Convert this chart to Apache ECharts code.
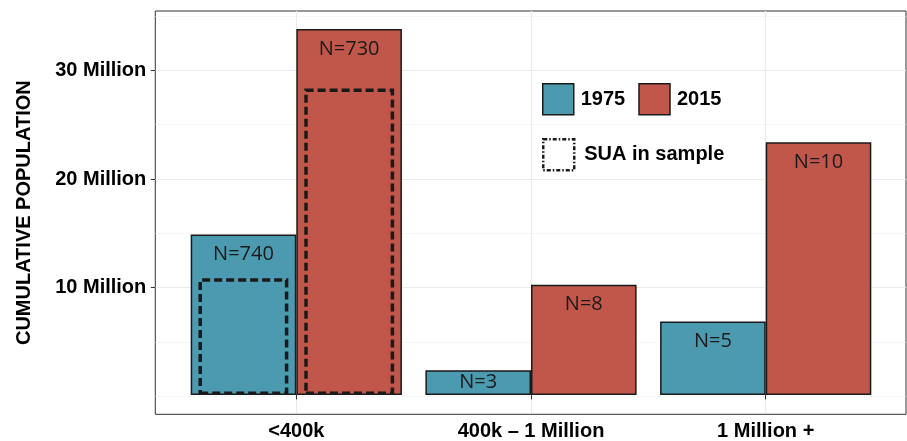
<!DOCTYPE html>
<html>
<head>
<meta charset="utf-8">
<script src="https://cdn.jsdelivr.net/npm/echarts@6/dist/echarts.min.js"></script>
<style>
html,body{margin:0;padding:0;background:#fff;}
#chart{width:907px;height:441px;}
</style>
</head>
<body>
<div id="chart"></div>
<script>
// ---- data ----
var categories = ['<400k', '400k \u2013 1 Million', '1 Million +'];
var pop1975 = [14.83, 2.28, 6.79];          // millions
var pop2015 = [33.81, 10.19, 23.35];        // millions
var sua1975 = [10.78, null, null];          // SUA in sample (millions)
var sua2015 = [28.3, null, null];
var counts1975 = ['N=740', 'N=3', 'N=5'];
var counts2015 = ['N=730', 'N=8', 'N=10'];
var majorTicks = [10, 20, 30];
var minorTicks = [0, 5, 15, 25, 35];
var yMin = -1.67, yMax = 35.47;

var C1975 = '#4C9AB0', C2015 = '#C1574A', EDGE = '#1a1a1a';
var boldFont = 'Liberation Sans';

function barData(vals, labels) {
  return vals.map(function (v, i) {
    return {
      value: v,
      label: { formatter: labels[i], distance: v < 4 ? 2 : 10 }
    };
  });
}

var chart = echarts.init(document.getElementById('chart'), null, { renderer: 'canvas' });
chart.setOption({
  animation: false,
  backgroundColor: '#fff',
  grid: [
    { left: 155.3, right: 1, top: 11, bottom: 26.7, show: true, borderColor: '#333', borderWidth: 1, backgroundColor: '#fff' },
    { left: 178.95, right: 23.95, top: 11, bottom: 26.7 }
  ],
  legend: [
    {
      data: ['1975', '2015'], left: 542, top: 83, padding: 0, icon: 'rect',
      itemWidth: 31, itemHeight: 31, itemGap: 13,
      textStyle: { fontSize: 20, fontWeight: 'bold', color: '#000', fontFamily: boldFont, padding: [0, 0, 0, 2] },
      itemStyle: { borderWidth: 1.5, borderColor: EDGE }
    },
    {
      data: ['SUA in sample'], left: 542, top: 138, padding: 0, icon: 'rect',
      itemWidth: 31, itemHeight: 31,
      textStyle: { fontSize: 20, fontWeight: 'bold', color: '#000', fontFamily: boldFont, padding: [0, 0, 0, 5] },
      itemStyle: { color: 'rgba(0,0,0,0)', borderWidth: 2.5, borderColor: EDGE, borderType: [4, 2, 1.5, 2] }
    }
  ],
  xAxis: [
    { type: 'category', gridIndex: 0, data: categories, show: false },
    {
      type: 'category', gridIndex: 1, data: categories,
      axisLine: { show: false },
      axisTick: { show: true, alignWithLabel: true, length: 4.5, lineStyle: { color: '#333', width: 1 } },
      axisLabel: { margin: 8, fontSize: 20, fontWeight: 'bold', color: '#000', fontFamily: boldFont },
      splitLine: { show: true, alignWithLabel: true, lineStyle: { color: '#ebebeb', width: 1.2 } }
    },
    { type: 'category', gridIndex: 1, data: categories, show: false }
  ],
  yAxis: [
    {
      type: 'value', gridIndex: 0, min: yMin, max: yMax,
      axisLine: { show: false },
      axisTick: { show: true, length: 4.5, lineStyle: { color: '#333' }, customValues: majorTicks },
      axisLabel: {
        customValues: majorTicks, margin: 9,
        formatter: function (v) { return v + ' Million'; },
        fontSize: 20, fontWeight: 'bold', color: '#000', fontFamily: boldFont
      },
      splitLine: { show: true, lineStyle: { color: '#ebebeb', width: 1.2 } },
      name: 'CUMULATIVE POPULATION', nameLocation: 'middle', nameGap: 121,
      nameTextStyle: { fontSize: 20, fontWeight: 'bold', color: '#000', fontFamily: boldFont }
    },
    {
      type: 'value', gridIndex: 0, min: yMin, max: yMax, position: 'left',
      axisLine: { show: false },
      axisTick: { show: false, customValues: minorTicks },
      axisLabel: { show: false },
      splitLine: { show: true, lineStyle: { color: '#f2f2f2', width: 0.7 } }
    },
    { type: 'value', gridIndex: 1, min: yMin, max: yMax, show: false, splitLine: { show: false } }
  ],
  series: [
    {
      name: '1975', type: 'bar', xAxisIndex: 1, yAxisIndex: 2,
      data: barData(pop1975, counts1975),
      barGap: '0%', barCategoryGap: '10%',
      itemStyle: { color: C1975, borderColor: EDGE, borderWidth: 1.5 },
      label: { show: true, position: 'insideTop', fontSize: 20, color: '#1a1a1a', fontFamily: 'Open Sans' }
    },
    {
      name: '2015', type: 'bar', xAxisIndex: 1, yAxisIndex: 2,
      data: barData(pop2015, counts2015),
      barGap: '0%', barCategoryGap: '10%',
      itemStyle: { color: C2015, borderColor: EDGE, borderWidth: 1.5 },
      label: { show: true, position: 'insideTop', fontSize: 20, color: '#1a1a1a', fontFamily: 'Open Sans' }
    },
    {
      name: 'SUA in sample', type: 'bar', xAxisIndex: 2, yAxisIndex: 2,
      data: sua1975, barWidth: '38.3%', barGap: '17.7%', z: 5,
      itemStyle: { color: 'rgba(0,0,0,0)', borderColor: EDGE, borderWidth: 3.5, borderType: [8, 4] }
    },
    {
      name: 'SUA in sample', type: 'bar', xAxisIndex: 2, yAxisIndex: 2,
      data: sua2015, barWidth: '38.3%', barGap: '17.7%', z: 5,
      itemStyle: { color: 'rgba(0,0,0,0)', borderColor: EDGE, borderWidth: 3.5, borderType: [8, 4] }
    }
  ]
});
</script>
</body>
</html>
